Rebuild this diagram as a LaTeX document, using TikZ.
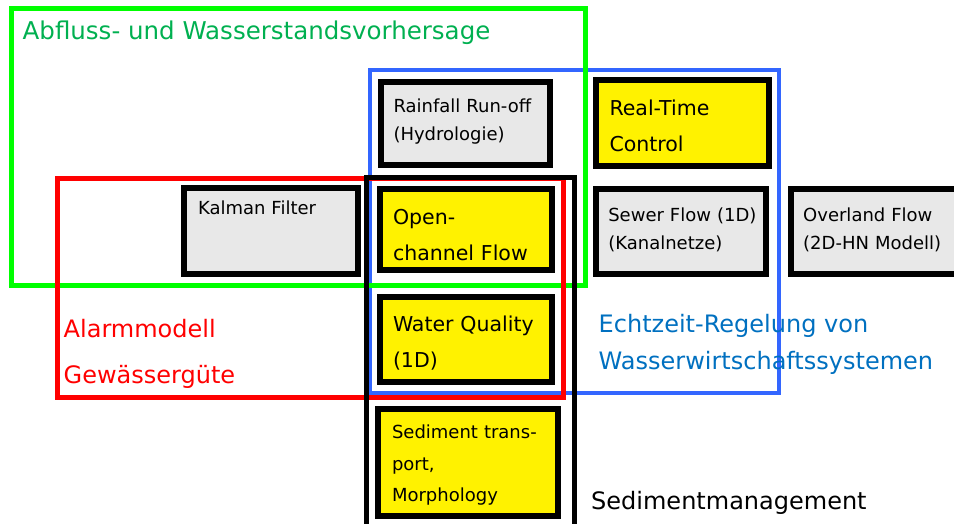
\documentclass[tikz,border=0pt]{standalone}
\usepackage{fontspec}
\setmainfont{DejaVu Sans}
\usepackage{tikz}

\definecolor{boxgrey}{HTML}{E8E8E8}
\definecolor{areagreen}{HTML}{00FF00}
\definecolor{textgreen}{HTML}{00B050}
\definecolor{areablue}{HTML}{3366FF}
\definecolor{textblue}{HTML}{0070C0}

\tikzset{
  modbox/.style={draw, line width=6pt, inner xsep=13pt, align=left, text height=0pt},
  greybox/.style={modbox, fill=boxgrey, font=\fontsize{18}{27.5}\selectfont},
  yellowbox/.style={modbox, fill=yellow, font=\fontsize{20.5}{36}\selectfont},
  arealabel/.style={anchor=base west, inner sep=0pt, align=left,
    font=\fontsize{24}{37.5}\selectfont},
}

\begin{document}
\begin{tikzpicture}[x=1pt,y=-1pt]
  \useasboundingbox (0,0) rectangle (954,524);
  % the overlapping areas
  \draw[areablue, line width=4pt] (370,70) rectangle (779,393);
  \draw[areagreen, line width=5pt] (11,9) rectangle (585,285);
  \draw[red, line width=5pt] (57.5,179) rectangle (563,397);
  \draw[line width=5pt] (366,540) -- (366,178) -- (574,178) -- (574,540);

  \node[arealabel, textgreen, font=\fontsize{24.5}{30}\selectfont] (vorhersage) at (22.5,39.5) {Abfluss- und Wasserstandsvorhersage};
  \node[arealabel, red, font=\fontsize{24}{46}\selectfont] (alarm) at (63.5,383.5) {Alarmmodell\\Gewässergüte};
  \node[arealabel, textblue] (echtzeit) at (598.5,369.5) {Echtzeit-Regelung von\\Wasserwirtschaftssystemen};
  \node[arealabel] (sediment) at (591,509.5) {Sedimentmanagement};

  % model boxes (text depth puts the first baseline)
  \node[greybox, minimum width=169pt, minimum height=83pt, text width=143pt, text depth=21.6pt] (rr) at (465,123.5) {Rainfall~Run-off\\(Hydrologie)};
  \node[yellowbox, minimum width=173pt, minimum height=86pt, text width=145pt, inner xsep=14pt, text depth=14.6pt] (rtc) at (682,123) {Real-Time\\Control};
  \node[greybox, minimum width=174pt, minimum height=86pt, text width=146pt, inner xsep=14pt, text depth=33.4pt] (kf) at (271,231) {Kalman Filter};
  \node[yellowbox, minimum width=172pt, minimum height=81pt, text width=146pt, text depth=9.4pt] (ocf) at (466,229.7) {Open-\\channel Flow};
  \node[greybox, minimum width=170pt, minimum height=85pt, text width=146pt, inner xsep=12pt, text depth=20pt] (sf) at (681.3,231.7) {Sewer~Flow~(1D)\\(Kanalnetze)};
  \node[greybox, minimum width=170pt, minimum height=85pt, text width=145pt, inner xsep=12.5pt, text depth=20pt] (of) at (875.7,231.7) {Overland~Flow\\(2D-HN~Modell)};
  \node[yellowbox, minimum width=172pt, minimum height=85pt, text width=146pt, text depth=15.6pt] (wq) at (466,339.5) {Water Quality\\(1D)};
  \node[yellowbox, minimum width=180pt, minimum height=107pt, text width=152pt, inner xsep=14pt, text depth=48.4pt,
    font=\fontsize{18}{31.7}\selectfont] (st) at (468,462.5) {Sediment~trans-\\port,\\Morphology};
\end{tikzpicture}
\end{document}
